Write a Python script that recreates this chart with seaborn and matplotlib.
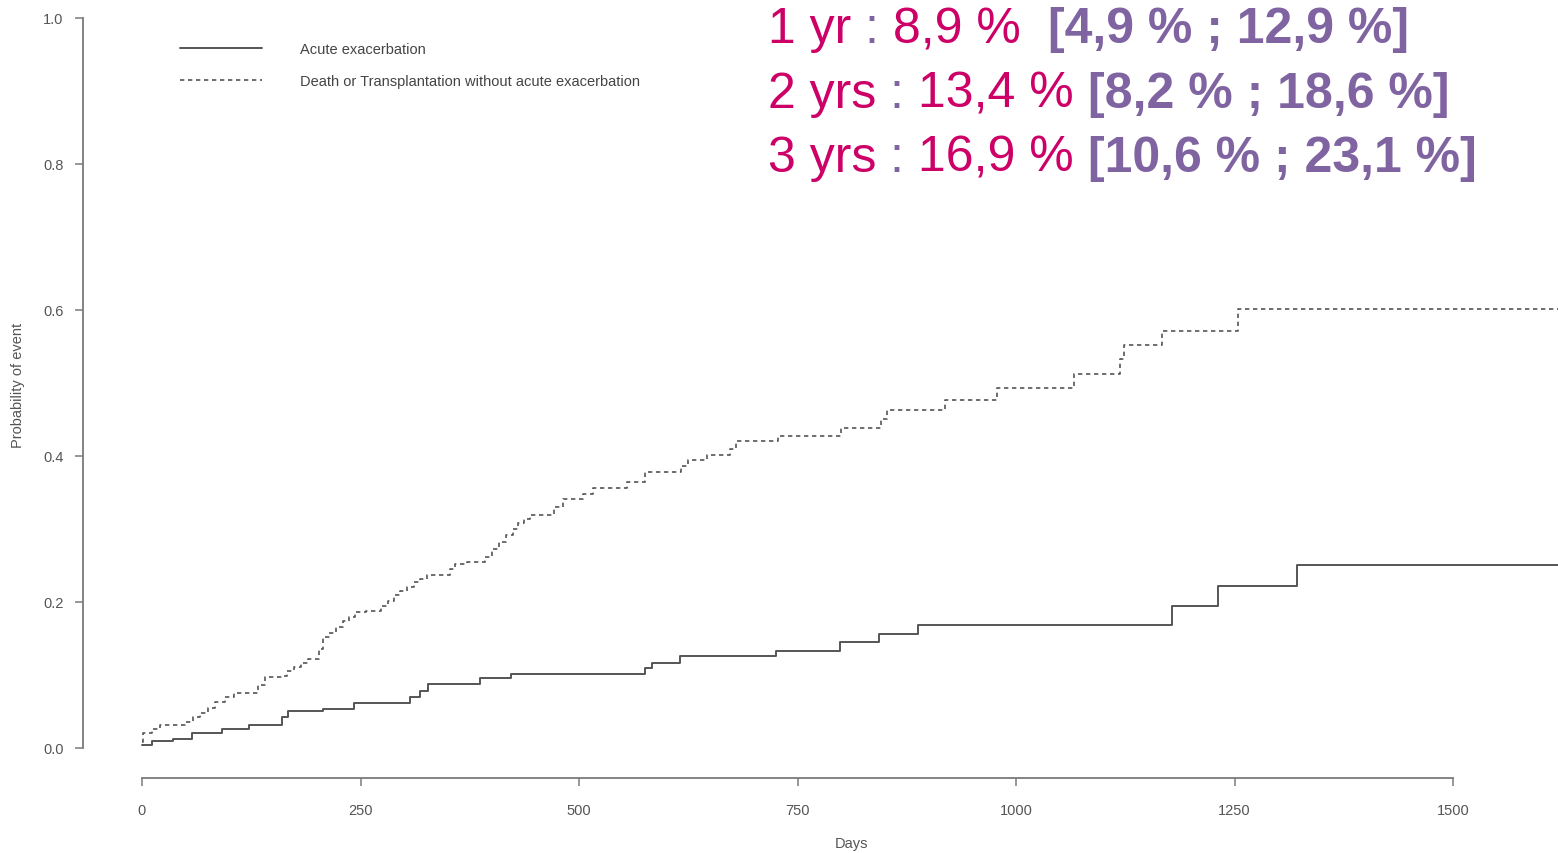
import matplotlib
matplotlib.use("Agg")
import matplotlib.pyplot as plt
import seaborn as sns
import pandas as pd

# ---------------- data ----------------
END_DAY = 1620

ae_days = [0, 11, 36, 57, 91, 122, 160, 167, 207, 242, 307, 318, 327, 387, 422,
           576, 584, 615, 725, 798, 843, 888, 1178, 1231, 1321]
ae_prob = [0.004, 0.009, 0.012, 0.021, 0.026, 0.032, 0.042, 0.050, 0.053, 0.062,
           0.070, 0.078, 0.088, 0.096, 0.102, 0.110, 0.117, 0.126, 0.133, 0.145,
           0.156, 0.169, 0.194, 0.222, 0.251]

dt_days = [0, 1, 11, 21, 49, 58, 66, 75, 84, 95, 105, 133, 141, 160, 166, 174,
           182, 190, 202, 207, 214, 222, 230, 237, 244, 256, 274, 281, 288, 295,
           303, 311, 318, 326, 352, 358, 372, 392, 400, 408, 416, 424, 430, 437,
           444, 471, 482, 505, 516, 555, 575, 617, 625, 646, 673, 680, 728, 800,
           846, 852, 919, 978, 1066, 1119, 1124, 1167, 1254]
dt_prob = [0.008, 0.021, 0.026, 0.031, 0.036, 0.042, 0.048, 0.055, 0.063, 0.070,
           0.076, 0.086, 0.097, 0.099, 0.105, 0.111, 0.117, 0.122, 0.135, 0.152,
           0.158, 0.166, 0.174, 0.180, 0.186, 0.188, 0.195, 0.202, 0.209, 0.215,
           0.221, 0.227, 0.232, 0.237, 0.245, 0.252, 0.255, 0.262, 0.272, 0.282,
           0.292, 0.300, 0.308, 0.314, 0.319, 0.330, 0.341, 0.348, 0.356, 0.364,
           0.378, 0.386, 0.394, 0.401, 0.410, 0.420, 0.428, 0.438, 0.450, 0.463,
           0.477, 0.493, 0.512, 0.533, 0.552, 0.571, 0.601]

series_labels = ["Acute exacerbation",
                 "Death or Transplantation without acute exacerbation"]

x_ticks = [0, 250, 500, 750, 1000, 1250, 1500]
y_ticks = [0.0, 0.2, 0.4, 0.6, 0.8, 1.0]
x_label = "Days"
y_label = "Probability of event"

annot_lines = [
    ("1 yr ", "8,9 %  ", "[4,9 % ; 12,9 %]"),
    ("2 yrs ", "13,4 % ", "[8,2 % ; 18,6 %]"),
    ("3 yrs ", "16,9 % ", "[10,6 % ; 23,1 %]"),
]

# ---------------- style ----------------
sns.set_theme(style="white")
plt.rcParams["font.family"] = ["Liberation Sans", "DejaVu Sans"]

W, H = 1558, 854
LINE_C = "#555555"
AXIS_C = "#7a7a7a"
TEXT_C = "#555555"
MAGENTA = "#CC0066"
PURPLE = "#8064A2"

fig = plt.figure(figsize=(W / 100, H / 100), dpi=100)
fig.patch.set_facecolor("white")
ax = fig.add_axes([83 / W, 75 / H, (W - 83) / W, 779 / H])
ax.set_facecolor("white")

df_ae = pd.DataFrame({"day": ae_days + [END_DAY], "prob": ae_prob + [ae_prob[-1]]})
df_dt = pd.DataFrame({"day": dt_days + [END_DAY], "prob": dt_prob + [dt_prob[-1]]})

sns.lineplot(data=df_ae, x="day", y="prob", ax=ax, drawstyle="steps-post",
             color=LINE_C, linewidth=1.4, label=series_labels[0],
             estimator=None, sort=True)
sns.lineplot(data=df_dt, x="day", y="prob", ax=ax, drawstyle="steps-post",
             color=LINE_C, linewidth=1.2, linestyle=(0, (2.6, 2.2)),
             label=series_labels[1], estimator=None, sort=True)

ax.set_xlim(-67.5, 1620)
ax.set_ylim(-0.0411, 1.026)

# R-style axes
for s in ["top", "right"]:
    ax.spines[s].set_visible(False)
ax.spines["left"].set_bounds(0, 1)
ax.spines["bottom"].set_bounds(0, 1500)
for s in ["left", "bottom"]:
    ax.spines[s].set_color(AXIS_C)
    ax.spines[s].set_linewidth(1.3)

ax.set_xticks(x_ticks)
ax.set_xticklabels([str(t) for t in x_ticks])
ax.set_yticks(y_ticks)
ax.set_yticklabels([f"{t:.1f}" for t in y_ticks])
ax.tick_params(axis="both", direction="out", length=6, width=1.1,
               color=AXIS_C, labelcolor=TEXT_C, labelsize=10.5,
               bottom=True, left=True)
ax.tick_params(axis="x", pad=12)
ax.tick_params(axis="y", pad=8)

ax.set_xlabel(x_label, fontsize=10.5, color=TEXT_C)
ax.xaxis.set_label_coords((852 - 83) / (W - 83), -58 / 779)
ax.set_ylabel(y_label, fontsize=10.5, color=TEXT_C)
ax.yaxis.set_label_coords((25 - 83) / (W - 83), (779 - 385) / 779)

leg = ax.legend(loc="upper left", bbox_to_anchor=(180 / W, 1 - 43 / H),
                bbox_transform=fig.transFigure, frameon=False,
                handlelength=5.6, handletextpad=2.6, labelspacing=1.25,
                fontsize=10.5, borderpad=0, borderaxespad=0)
for t in leg.get_texts():
    t.set_color("#444444")

# annotation block (rich text, chained pieces)
renderer = fig.canvas.get_renderer()
baselines = [43, 108, 172]
for (lab, val, ci), yb in zip(annot_lines, baselines):
    x = 768 / W
    y = 1 - yb / H
    pieces = [(lab, MAGENTA, "normal"), (": ", PURPLE, "normal"),
              (val, MAGENTA, "normal"), (ci, PURPLE, "bold")]
    for txt, col, wt in pieces:
        t = fig.text(x, y, txt, color=col, fontsize=36, fontweight=wt,
                     ha="left", va="baseline")
        bb = t.get_window_extent(renderer)
        x = bb.x1 / fig.bbox.width

fig.savefig("out.png", dpi=100, facecolor="white")
